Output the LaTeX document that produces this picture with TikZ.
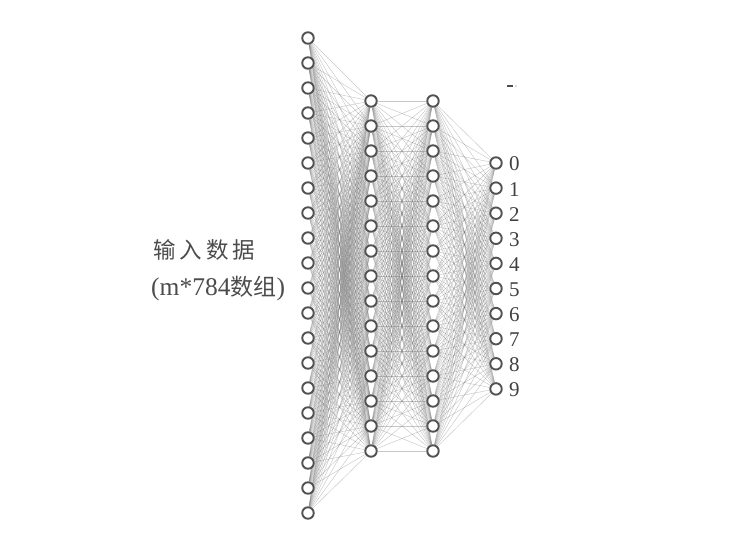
\documentclass[tikz,border=0pt]{standalone}
\usepackage{fontspec}
\setmainfont{Liberation Serif}
\newfontfamily\cjk{Noto Sans CJK SC}
\usetikzlibrary{backgrounds}
\begin{document}
\begin{tikzpicture}[x=1pt,y=-1pt,
  neuron/.style={circle,draw=black!68,line width=1.9pt,fill=white,minimum size=11.5pt,inner sep=0pt},
  link/.style={draw=black!55,line width=0.45pt,opacity=0.4},
  outlbl/.style={font=\fontsize{21}{21}\selectfont,text=black!75,anchor=west,inner sep=0pt},
  inlbl/.style={text=black!70,anchor=west,inner sep=0pt}]
\useasboundingbox (0,0) rectangle (739,548);
% input layer (20)
\foreach \k in {1,...,20}
  \node[neuron] (i\k) at (308,{38+(\k-1)*25}) {};
% hidden layer 1 (15)
\foreach \k in {1,...,15}
  \node[neuron] (a\k) at (371,{101+(\k-1)*25}) {};
% hidden layer 2 (15)
\foreach \k in {1,...,15}
  \node[neuron] (b\k) at (433,{101+(\k-1)*25}) {};
% output layer (10)
\foreach \k in {0,...,9}
  \node[neuron] (o\k) at (496,{163+\k*25.1}) {};
\foreach \k in {0,...,9}
  \node[outlbl] (t\k) at (509,{164+\k*25.1}) {\k};
% connections
\begin{pgfonlayer}{background}
\foreach \p in {1,...,20}
  \foreach \q in {1,...,15}
    \draw[link] (i\p) -- (a\q);
\foreach \p in {1,...,15}
  \foreach \q in {1,...,15}
    \draw[link] (a\p) -- (b\q);
\foreach \p in {1,...,15}
  \foreach \q in {0,...,9}
    \draw[link] (b\p) -- (o\q);
\end{pgfonlayer}
% input label
\node[inlbl] (l1) at (153,250) {\fontsize{22.5}{22.5}\selectfont\cjk 输\hspace{4pt}入\hspace{4pt}数\hspace{4pt}据};
\node[inlbl] (l2) at (151,289) {\fontsize{25.5}{25.5}\selectfont (m*784{\cjk\fontsize{23}{23}\selectfont 数组})};
% small mark
\coordinate (m1) at (507,86);
\coordinate (m2) at (513,86);
\draw[black!70,line width=1.2pt] (m1) -- (m2);
\fill[black!60] (516,86) circle (0.7);
\end{tikzpicture}
\end{document}
